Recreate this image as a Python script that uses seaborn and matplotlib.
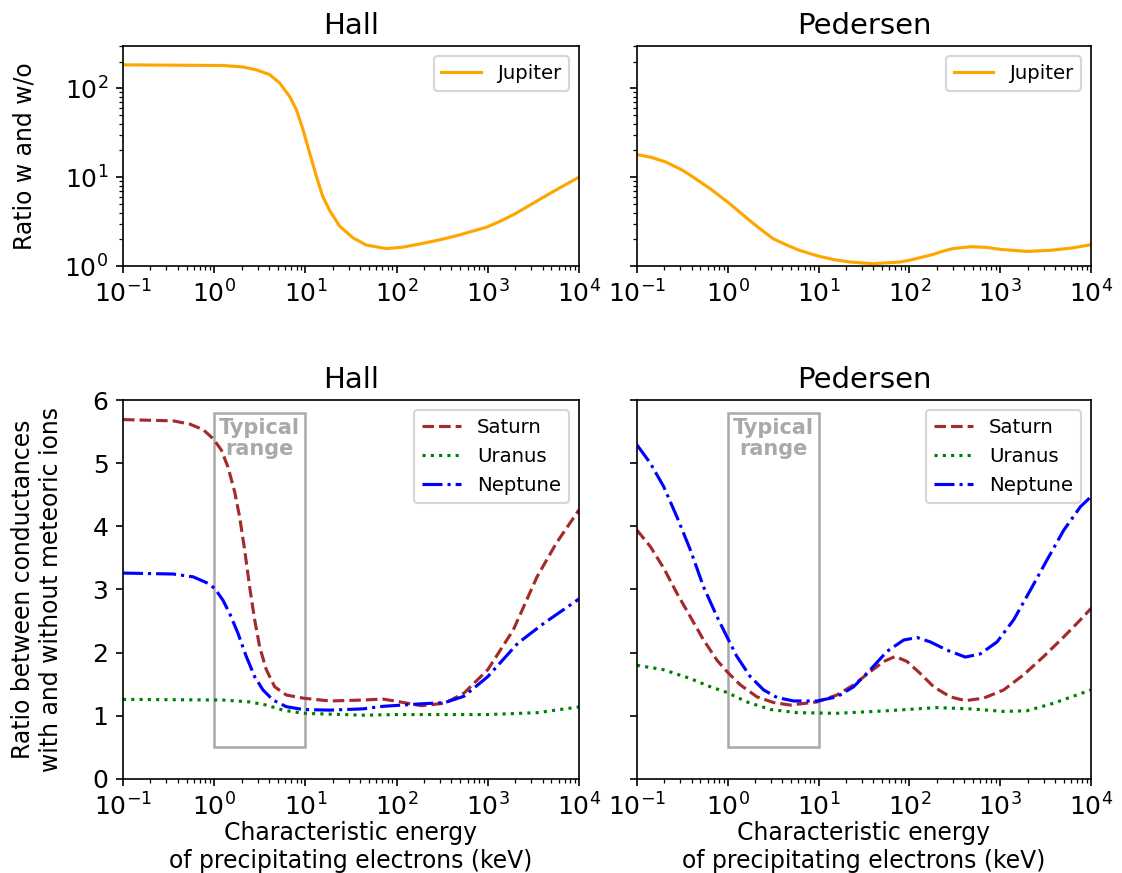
import numpy as np
import seaborn as sns
import matplotlib.pyplot as plt
from matplotlib.patches import Rectangle

# energies are stored as log10(keV)
jup_hall_lx = [-1, 0.10, 0.316, 0.46, 0.608, 0.718, 0.827, 0.90, 0.974, 1.047, 1.12, 1.19, 1.27, 1.376, 1.52, 1.67,
               1.887, 2.07, 2.29, 2.5, 2.67, 2.99, 3.15, 3.30, 3.47, 3.64, 3.82, 4.0]
jup_hall = [184, 181, 174, 162, 143, 115, 81, 58, 34.4, 18.7, 10.3, 6.1, 4.15, 2.81, 2.08, 1.72,
            1.57, 1.63, 1.80, 2.0, 2.21, 2.74, 3.24, 3.87, 4.9, 6.2, 7.9, 10.0]

jup_ped_lx = [-1, -0.85, -0.68, -0.5, -0.38, -0.2, 0, 0.1, 0.24, 0.36, 0.50, 0.65, 0.79, 1.0, 1.17, 1.34, 1.60,
              1.90, 2.0, 2.13, 2.26, 2.37, 2.48, 2.68, 2.85, 3.0, 3.29, 3.55, 3.8, 4.0]
jup_ped = [18.0, 16.8, 14.8, 12.0, 10.0, 7.5, 5.24, 4.3, 3.26, 2.6, 2.03, 1.72, 1.50, 1.29, 1.18, 1.11, 1.06,
           1.11, 1.16, 1.25, 1.35, 1.47, 1.57, 1.65, 1.62, 1.54, 1.46, 1.50, 1.60, 1.74]

sat_hall_lx = [-1, -0.45, -0.27, -0.12, -0.013, 0.078, 0.151, 0.224, 0.279, 0.334, 0.389, 0.444, 0.499, 0.572, 0.663,
               0.79, 0.974, 1.266, 1.63, 1.85, 2.0, 2.27, 2.53, 2.74, 3.0, 3.28, 3.54, 3.75, 4.0]
sat_hall = [5.69, 5.67, 5.62, 5.53, 5.39, 5.21, 4.94, 4.55, 4.15, 3.63, 3.04, 2.52, 2.09, 1.73, 1.46,
            1.33, 1.28, 1.235, 1.25, 1.265, 1.23, 1.16, 1.20, 1.36, 1.73, 2.36, 3.20, 3.73, 4.26]

nep_hall_lx = [-1, -0.45, -0.23, -0.086, 0.005, 0.096, 0.17, 0.26, 0.352, 0.444, 0.535, 0.645, 0.79, 0.974, 1.266,
               1.63, 1.85, 2.27, 2.53, 2.74, 3.0, 3.33, 3.62, 4.0]
nep_hall = [3.26, 3.245, 3.20, 3.11, 3.02, 2.83, 2.62, 2.31, 1.94, 1.62, 1.41, 1.25, 1.145, 1.10, 1.09,
            1.11, 1.15, 1.19, 1.21, 1.31, 1.62, 2.15, 2.47, 2.85]

ura_hall_lx = [-1, 0.096, 0.389, 0.572, 0.754, 0.974, 1.63, 2.0, 3.0, 3.54, 4.0]
ura_hall = [1.26, 1.25, 1.22, 1.17, 1.09, 1.04, 1.01, 1.02, 1.02, 1.05, 1.14]

sat_ped_lx = [-1, -0.853, -0.706, -0.56, -0.413, -0.266, -0.119, -0.009, 0.138, 0.322, 0.505, 0.689, 0.982, 1.203,
              1.386, 1.57, 1.717, 1.845, 1.974, 2.12, 2.267, 2.45, 2.616, 2.818, 3.038, 3.258, 3.479, 3.70, 3.883, 4.0]
sat_ped = [3.94, 3.68, 3.34, 2.94, 2.57, 2.20, 1.88, 1.70, 1.49, 1.30, 1.21, 1.17, 1.22, 1.33,
           1.49, 1.70, 1.86, 1.94, 1.86, 1.67, 1.46, 1.30, 1.24, 1.28, 1.41, 1.65, 1.94, 2.25, 2.52, 2.70]

nep_ped_lx = [-1, -0.853, -0.706, -0.56, -0.413, -0.266, -0.119, -0.009, 0.10, 0.248, 0.395, 0.542, 0.725, 0.982,
              1.203, 1.386, 1.57, 1.753, 1.937, 2.084, 2.23, 2.414, 2.616, 2.78, 2.965, 3.148, 3.332, 3.516, 3.70,
              3.883, 4.0]
nep_ped = [5.29, 5.0, 4.63, 4.15, 3.63, 3.04, 2.57, 2.25, 1.94, 1.62, 1.41, 1.29, 1.235, 1.235,
           1.30, 1.46, 1.73, 2.02, 2.20, 2.24, 2.17, 2.04, 1.93, 1.98, 2.17, 2.52, 2.99, 3.47, 3.94,
           4.31, 4.47]

ura_ped_lx = [-1, -0.706, -0.413, -0.192, -0.009, 0.211, 0.468, 0.762, 1.203, 1.753, 2.30, 2.67, 3.038, 3.295, 3.589, 4.0]
ura_ped = [1.80, 1.73, 1.59, 1.46, 1.37, 1.22, 1.10, 1.05, 1.04, 1.08, 1.13, 1.11, 1.07, 1.08, 1.20, 1.41]

def kev(lx):
    return 10.0 ** np.array(lx)

fig = plt.figure(figsize=(7.48, 5.82), dpi=150)
ax1 = fig.add_axes([0.1096, 0.6953, 0.4064, 0.2520])
ax2 = fig.add_axes([0.5677, 0.6953, 0.4047, 0.2520])
ax3 = fig.add_axes([0.1096, 0.1077, 0.4064, 0.4341])
ax4 = fig.add_axes([0.5677, 0.1077, 0.4047, 0.4341])

# top row: Jupiter, log scale
sns.lineplot(x=kev(jup_hall_lx), y=jup_hall, ax=ax1, color='orange', label='Jupiter')
sns.lineplot(x=kev(jup_ped_lx), y=jup_ped, ax=ax2, color='orange', label='Jupiter')
for ax, t in [(ax1, 'Hall'), (ax2, 'Pedersen')]:
    ax.set_xscale('log')
    ax.set_yscale('log')
    ax.set_xlim(0.1, 1e4)
    ax.set_ylim(1, 300)
    ax.set_title(t, fontsize=14)
    ax.legend(loc='upper right', fontsize=9.5)
ax2.tick_params(axis='y', which='both', labelleft=False)
ax1.set_ylabel('Ratio w and w/o')
ax1.yaxis.set_label_coords(-0.189, 0.5)

# bottom row: Saturn, Uranus, Neptune
panels = [(ax3, 'Hall', sat_hall_lx, sat_hall, ura_hall_lx, ura_hall, nep_hall_lx, nep_hall),
          (ax4, 'Pedersen', sat_ped_lx, sat_ped, ura_ped_lx, ura_ped, nep_ped_lx, nep_ped)]
for ax, t, slx, s, ulx, u, nlx, n in panels:
    sns.lineplot(x=kev(slx), y=s, ax=ax, color='brown', linestyle='--', label='Saturn')
    sns.lineplot(x=kev(ulx), y=u, ax=ax, color='green', linestyle=':', label='Uranus')
    sns.lineplot(x=kev(nlx), y=n, ax=ax, color='blue', linestyle='-.', label='Neptune')
    ax.set_xscale('log')
    ax.set_xlim(0.1, 1e4)
    ax.set_ylim(0, 6)
    ax.set_title(t, fontsize=14)
    ax.add_patch(Rectangle((1, 0.5), 9, 5.3, fill=False, edgecolor='darkgray', linewidth=1.2))
    ax.text(np.sqrt(10), 5.72, 'Typical\nrange', ha='center', va='top', color='darkgray',
            fontweight='bold', fontsize=10, linespacing=1.1)
    ax.legend(loc='upper right', fontsize=9.5)
    ax.set_xlabel('Characteristic energy\nof precipitating electrons (keV)', labelpad=0)
ax4.tick_params(axis='y', labelleft=False)
ax3.set_ylabel('Ratio between conductances\nwith and without meteoric ions')
ax3.yaxis.set_label_coords(-0.131, 0.5)

for ax in [ax1, ax2, ax3, ax4]:
    ax.tick_params(labelsize=12)
    ax.yaxis.label.set_size(11.3)
    ax.xaxis.label.set_size(11.3)

fig.savefig('out.png', dpi=150)
